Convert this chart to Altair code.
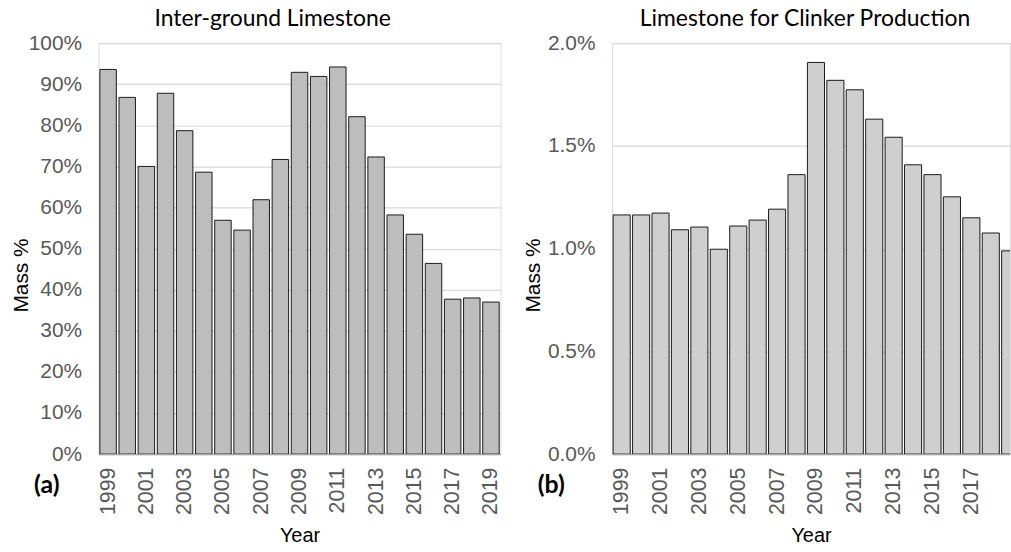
import altair as alt
import pandas as pd

years = list(range(1999, 2020))
interground_pct = [93.6, 86.8, 70.0, 87.8, 78.7, 68.6, 56.9, 54.5, 61.9, 71.7,
                   92.9, 91.9, 94.2, 82.1, 72.3, 58.2, 53.5, 46.4, 37.7, 38.0, 37.0]
clinker_pct = [1.164, 1.164, 1.173, 1.092, 1.105, 0.997, 1.110, 1.139, 1.192, 1.360,
               1.906, 1.819, 1.773, 1.630, 1.542, 1.408, 1.360, 1.252, 1.150, 1.076, 0.989]
left_year_labels = [1999, 2001, 2003, 2005, 2007, 2009, 2011, 2013, 2015, 2017, 2019]
right_year_labels = [1999, 2001, 2003, 2005, 2007, 2009, 2011, 2013, 2015, 2017]
left_ticks = [0, 10, 20, 30, 40, 50, 60, 70, 80, 90, 100]
right_ticks = [0.0, 0.5, 1.0, 1.5, 2.0]

df_a = pd.DataFrame({"year": years, "value": interground_pct})
df_b = pd.DataFrame({"year": years, "value": clinker_pct})

LABEL_FONT = "Liberation Sans"
TITLE_FONT = "Lato"
H = 413


def panel(df, title, title_dx, fill, ydomain, yticks, ylabel_expr, xdomain, xlabels, width,
          letter, letter_x, half, title_x):
    x_axis = alt.Axis(values=xlabels, format="d", labelAngle=-90, grid=False, ticks=False,
                      domainColor="#a6a6a6", domainWidth=1.5, labelPadding=13, labelFontSize=21.5,
                      labelFont=LABEL_FONT, labelColor="#595959", title="Year",
                      titleFont=LABEL_FONT, titleFontSize=20, titleFontWeight="normal",
                      titleColor="#000000", titlePadding=11, labelFlush=False, labelOverlap=False)
    y_axis = alt.Axis(values=yticks, labelExpr=ylabel_expr, grid=True, gridColor="#d9d9d9",
                      gridWidth=1.2, domain=False, ticks=False, labelPadding=17, labelFontSize=21,
                      labelFont=LABEL_FONT, labelColor="#595959", title="Mass %",
                      titleFont=LABEL_FONT, titleFontSize=21, titleFontWeight="normal",
                      titleColor="#000000", titleX=title_x, titleY=233)
    bars = alt.Chart(df).transform_calculate(
        x0=f"datum.year - {half}", x1=f"datum.year + {half}"
    ).mark_bar(fill=fill, stroke="#1a1a1a", strokeWidth=1, clip=True).encode(
        x=alt.X("x0:Q", scale=alt.Scale(domain=xdomain, nice=False, zero=False), axis=x_axis),
        x2="x1:Q",
        y=alt.Y("value:Q", scale=alt.Scale(domain=ydomain, nice=False), axis=y_axis),
        y2=alt.datum(0),
    )
    lab = alt.Chart(pd.DataFrame({"t": [letter]})).mark_text(
        font=TITLE_FONT, fontSize=25, fontWeight="bold", color="#000000",
        align="center", baseline="middle"
    ).encode(text="t:N", x=alt.value(letter_x), y=alt.value(H + 31))
    return alt.layer(bars, lab).properties(
        width=width, height=H,
        title=alt.TitleParams(title, font=TITLE_FONT, fontSize=23, fontWeight="normal",
                              color="#000000", offset=1, anchor="middle", dx=title_dx),
    )


left = panel(df_a, "Inter-ground Limestone", -27, "#bdbdbd", [0, 100], left_ticks,
             "datum.value + '%'", [1998.5, 2019.5], left_year_labels, 404, "(a)", -52,
             0.43, -67)
right = panel(df_b, "Limestone for Clinker Production", -6, "#cfcfcf", [0, 2.0], right_ticks,
              "format(datum.value, '.1f') + '%'", [1998.5, 2018.99], right_year_labels, 400,
              "(b)", -61, 0.44, -68.6)

chart = alt.hconcat(left, right, spacing=19).properties(
    padding={"left": 10, "top": 6, "right": 0, "bottom": 0}
).configure_view(stroke=None).configure(background="white")

chart.save("out.html", embed_options={"renderer": "svg", "actions": False})
